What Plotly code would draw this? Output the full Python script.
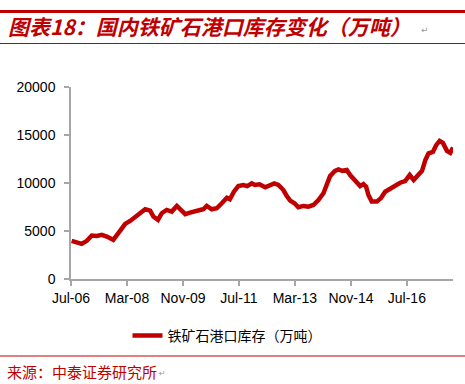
import plotly.graph_objects as go

dates = [
    "2006-07-08", "2006-09-20", "2006-10-25", "2006-12-20", "2007-02-12", "2007-04-06",
    "2007-06-01", "2007-07-25", "2007-10-04", "2007-11-28", "2008-02-10", "2008-04-04",
    "2008-05-28", "2008-07-22", "2008-09-15", "2008-11-08", "2008-12-13", "2009-02-01",
    "2009-03-14", "2009-05-07", "2009-07-01", "2009-08-25", "2009-10-01", "2009-11-25",
    "2010-01-16", "2010-03-10", "2010-05-04", "2010-06-10", "2010-07-16", "2010-09-09",
    "2010-11-03", "2010-12-27", "2011-02-20", "2011-03-25", "2011-05-08", "2011-06-25",
    "2011-08-18", "2011-10-01", "2011-11-18", "2011-12-24", "2012-02-10", "2012-04-12",
    "2012-06-04", "2012-07-20", "2012-09-03", "2012-10-27", "2012-12-03", "2013-01-09",
    "2013-02-25", "2013-04-08", "2013-06-02", "2013-07-25", "2013-09-18", "2013-11-12",
    "2014-01-06", "2014-02-12", "2014-03-19", "2014-05-12", "2014-06-18", "2014-07-31",
    "2014-09-17", "2014-10-23", "2014-11-28", "2015-01-04", "2015-02-09", "2015-03-16",
    "2015-04-15", "2015-05-10", "2015-06-15", "2015-08-09", "2015-09-22", "2015-11-08",
    "2016-01-02", "2016-02-25", "2016-04-19", "2016-06-12", "2016-08-01", "2016-09-13",
    "2016-11-06", "2016-12-13", "2017-01-18", "2017-02-22", "2017-04-10", "2017-05-16",
    "2017-06-22", "2017-07-28", "2017-09-10", "2017-10-16", "2017-11-15",
]
inventory = [
    3975, 3800, 3660, 3975, 4525, 4490,
    4600, 4420, 4080, 4770, 5740, 6050,
    6430, 6850, 7260, 7120, 6500, 6155,
    6850, 7190, 7020, 7610, 7260, 6750,
    6910, 7090, 7190, 7260, 7610, 7260,
    7370, 7890, 8470, 8300, 9090, 9680,
    9790, 9680, 9960, 9790, 9860, 9550,
    9720, 9960, 9790, 9270, 8650, 8160,
    7890, 7470, 7610, 7540, 7710, 8230,
    8930, 9960, 10720, 11270, 11420, 11270,
    11350, 10830, 10480, 9960, 9680, 9890,
    9610, 8750, 8060, 8060, 8410, 9090,
    9450, 9720, 10030, 10200, 10830, 10310,
    10930, 11270, 12380, 13080, 13240, 13940,
    14390, 14180, 13350, 13140, 13700,
]
tick_dates = ["2006-07-01", "2008-03-01", "2009-11-01", "2011-07-01",
              "2013-03-01", "2014-11-01", "2016-07-01"]
tick_labels = ["Jul-06", "Mar-08", "Nov-09", "Jul-11", "Mar-13", "Nov-14", "Jul-16"]
y_ticks = [0, 5000, 10000, 15000, 20000]
y_labels = ["0", "5000", "10000", "15000", "20000"]
series_name = "铁矿石港口库存（万吨）"
title_text = "图表18：国内铁矿石港口库存变化（万吨）"
source_text = "来源：中泰证券研究所"

W, H = 465, 384
L, R, T, B = 71, 453, 87, 279
RED = "#C00000"


def px(x):
    return (x - L) / (R - L)


def py(y):
    return (B - y) / (B - T)


fig = go.Figure()
fig.add_trace(go.Scatter(
    x=dates, y=inventory, mode="lines", name=series_name,
    line=dict(color=RED, width=4.5),
))

fig.update_layout(
    width=W, height=H,
    margin=dict(l=L, r=W - R, t=T, b=H - B, autoexpand=False),
    paper_bgcolor="white", plot_bgcolor="white",
    showlegend=True,
    legend=dict(orientation="h", x=px(227), y=py(336), xanchor="center", yanchor="middle",
                font=dict(family="Noto Sans CJK SC", size=14, color="#000000"),
                bgcolor="rgba(0,0,0,0)"),
    xaxis=dict(
        type="date", range=["2006-07-01", "2017-11-15"],
        tickvals=tick_dates, ticktext=tick_labels,
        showgrid=False, zeroline=False,
        showline=True, linecolor="#A6A6A6", linewidth=1.5,
        ticks="outside", ticklen=5, tickcolor="#A6A6A6", tickwidth=1.5,
        tickfont=dict(family="Liberation Sans", size=14, color="#000000"),
    ),
    yaxis=dict(
        range=[0, 20000], tickvals=y_ticks, ticktext=y_labels,
        showgrid=False, zeroline=False,
        showline=True, linecolor="#A6A6A6", linewidth=1.5,
        ticks="outside", ticklen=5, tickcolor="#A6A6A6", tickwidth=1.5,
        tickfont=dict(family="Liberation Sans", size=14, color="#000000"),
        ticklabelstandoff=6,
    ),
)

shapes = [
    dict(type="line", xref="paper", yref="paper", x0=px(0), x1=px(W), y0=py(11.5), y1=py(11.5),
         line=dict(color=RED, width=3)),
    dict(type="line", xref="paper", yref="paper", x0=px(0), x1=px(W), y0=py(43.5), y1=py(43.5),
         line=dict(color=RED, width=1)),
    dict(type="line", xref="paper", yref="paper", x0=px(0), x1=px(W), y0=py(356), y1=py(356),
         line=dict(color=RED, width=1)),
]
fig.update_layout(shapes=shapes)

annotations = [
    dict(text=title_text, xref="paper", yref="paper", x=px(6), y=py(26), xanchor="left",
         yanchor="middle", showarrow=False,
         font=dict(family="Noto Sans CJK SC", size=21, color=RED, weight="bold", style="italic")),
    dict(text="↵", xref="paper", yref="paper", x=px(419), y=py(30), xanchor="left",
         yanchor="middle", showarrow=False, font=dict(family="DejaVu Sans", size=9, color="#999999")),
    dict(text=source_text, xref="paper", yref="paper", x=px(5), y=py(371), xanchor="left",
         yanchor="middle", showarrow=False,
         font=dict(family="Noto Sans CJK SC", size=15, color=RED)),
    dict(text="↵", xref="paper", yref="paper", x=px(157), y=py(373), xanchor="left",
         yanchor="middle", showarrow=False, font=dict(family="DejaVu Sans", size=8, color="#999999")),
]
fig.update_layout(annotations=annotations)

fig.write_html("out.html", post_script="document.body.style.margin='0';",
               config={"displayModeBar": False})
